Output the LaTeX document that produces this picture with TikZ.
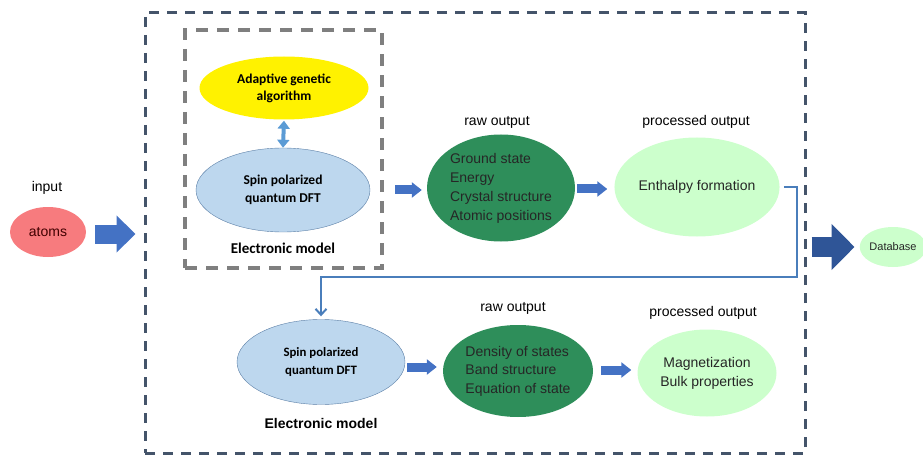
\documentclass[tikz,border=0pt]{standalone}
\usepackage{fontspec}
\setmainfont{Liberation Sans}
\newfontfamily\calibri{Carlito}
\usetikzlibrary{arrows.meta,shapes.geometric}

\definecolor{boxblue}{HTML}{44546A}
\definecolor{boxgray}{HTML}{7F7F7F}
\definecolor{arrblue}{HTML}{4472C4}
\definecolor{arrdark}{HTML}{2F5597}
\definecolor{linkblue}{HTML}{4A7EBB}
\definecolor{dblarr}{HTML}{5B9BD5}
\definecolor{dftfill}{HTML}{BDD7EE}
\definecolor{dftline}{HTML}{5B7FA6}
\definecolor{rawgreen}{HTML}{2E8E5A}
\definecolor{procgreen}{HTML}{CCFFCC}
\definecolor{atomred}{HTML}{F77B7E}

\begin{document}
\begin{tikzpicture}
	[x=1pt,y=-1pt,
	 blob/.style={ellipse, inner sep=0pt},
	 plain/.style={font=\fontsize{14}{19}\selectfont, inner sep=0pt},
	 smallarr/.style={draw=arrblue, line width=9pt, -{Triangle[width=15pt,length=10pt]}},
	 link/.style={draw=linkblue, line width=2pt}]
	\useasboundingbox (0,0) rectangle (923,457);

	% frames
	\node[draw=boxblue, line width=3pt, dash pattern=on 10pt off 8pt,
	      minimum width=660pt, minimum height=440pt] (workflow) at (475,233) {};
	\node[draw=boxgray, line width=3.5pt, dash pattern=on 12pt off 9pt,
	      minimum width=197pt, minimum height=238pt] (elecbox) at (283.5,149) {};

	% input
	\node[plain] (inlabel) at (47,188) {input};
	\node[blob, fill=atomred, minimum width=76pt, minimum height=50pt,
	      font=\fontsize{14}{19}\selectfont, text=black!75!red] (atoms) at (48,232) {atoms};

	% first stage
	\node[blob, fill=yellow, minimum width=169pt, minimum height=63pt, align=center,
	      font=\calibri\bfseries\fontsize{13.5}{17}\selectfont] (aga) at (284,88) {Adaptive genetic\\algorithm};
	\node[blob, draw=dftline, fill=dftfill, minimum width=174pt, minimum height=84pt, align=center,
	      font=\calibri\bfseries\fontsize{13.5}{18}\selectfont] (dft1) at (283,190) {Spin polarized\\quantum DFT};
	\node[font=\calibri\bfseries\fontsize{15}{18}\selectfont, inner sep=0pt] (model1) at (283,248) {Electronic model};

	\node[plain] (rawlabel1) at (497,122) {raw output};
	\node[blob, fill=rawgreen, minimum width=148pt, minimum height=107pt, align=left,
	      font=\fontsize{14}{19}\selectfont, text=black!85] (raw1) at (501,188)
	      {Ground state\\Energy\\Crystal structure\\Atomic positions};
	\node[plain] (proclabel1) at (696,122) {processed output};
	\node[blob, fill=procgreen, minimum width=164pt, minimum height=99pt,
	      font=\fontsize{14}{19}\selectfont, text=black!85] (proc1) at (697,187) {Enthalpy formation};

	% second stage
	\node[blob, draw=dftline, fill=dftfill, minimum width=168pt, minimum height=85pt, align=center,
	      font=\calibri\bfseries\fontsize{12.8}{18}\selectfont] (dft2) at (321,362) {Spin polarized\\quantum DFT};
	\node[font=\bfseries\fontsize{14}{18}\selectfont, inner sep=0pt] (model2) at (321,423) {Electronic model};

	\node[plain] (rawlabel2) at (513,308) {raw output};
	\node[blob, fill=rawgreen, minimum width=150pt, minimum height=92pt, align=left,
	      font=\fontsize{14}{18.5}\selectfont, text=black!85] (raw2) at (518,371)
	      {Density of states\\Band structure\\Equation of state};
	\node[plain] (proclabel2) at (703,313) {processed output};
	\node[blob, fill=procgreen, minimum width=139pt, minimum height=87pt, align=center,
	      font=\fontsize{14}{19}\selectfont, text=black!85] (proc2) at (707,373) {Magnetization\\Bulk properties};

	% output
	\node[blob, fill=procgreen, minimum width=62pt, minimum height=40pt,
	      font=\fontsize{11}{13}\selectfont, text=black!85] (db) at (893,247) {Database};

	% arrows
	\draw[draw=arrblue, line width=19pt, -{Triangle[width=36pt,length=19pt]},
	      shorten <=9pt, shorten >=8pt] (atoms.east |- 0,234) -- (workflow.west |- 0,234);
	\draw[draw=dblarr, line width=4pt, {Triangle[width=12pt,length=8pt]}-{Triangle[width=12pt,length=8pt]},
	      shorten <=1pt] (aga.south) -- (dft1.north);
	\draw[smallarr, shorten <=25pt, shorten >=5pt] (dft1.east |- 0,190) -- (raw1.west |- 0,190);
	\draw[smallarr, shorten <=2pt, shorten >=7pt] (raw1.east |- 0,189) -- (proc1.west |- 0,189);
	\draw[smallarr, shorten <=2pt, shorten >=6pt] (dft2.east |- 0,367) -- (raw2.west |- 0,367);
	\draw[smallarr, shorten <=8pt, shorten >=6pt] (raw2.east |- 0,370) -- (proc2.west |- 0,370);
	\draw[draw=arrdark, line width=20pt, -{Triangle[width=45pt,length=23pt]},
	      shorten <=5pt, shorten >=5pt] (workflow.east |- db) -- (db.west);

	% feedback to second stage
	\coordinate (bend) at (797,277);
	\draw[link, -{Straight Barb[length=6pt,width=11pt]}, shorten <=4pt, shorten >=3pt]
	      (proc1.east) -| (bend) -| (dft2.north);
\end{tikzpicture}
\end{document}
